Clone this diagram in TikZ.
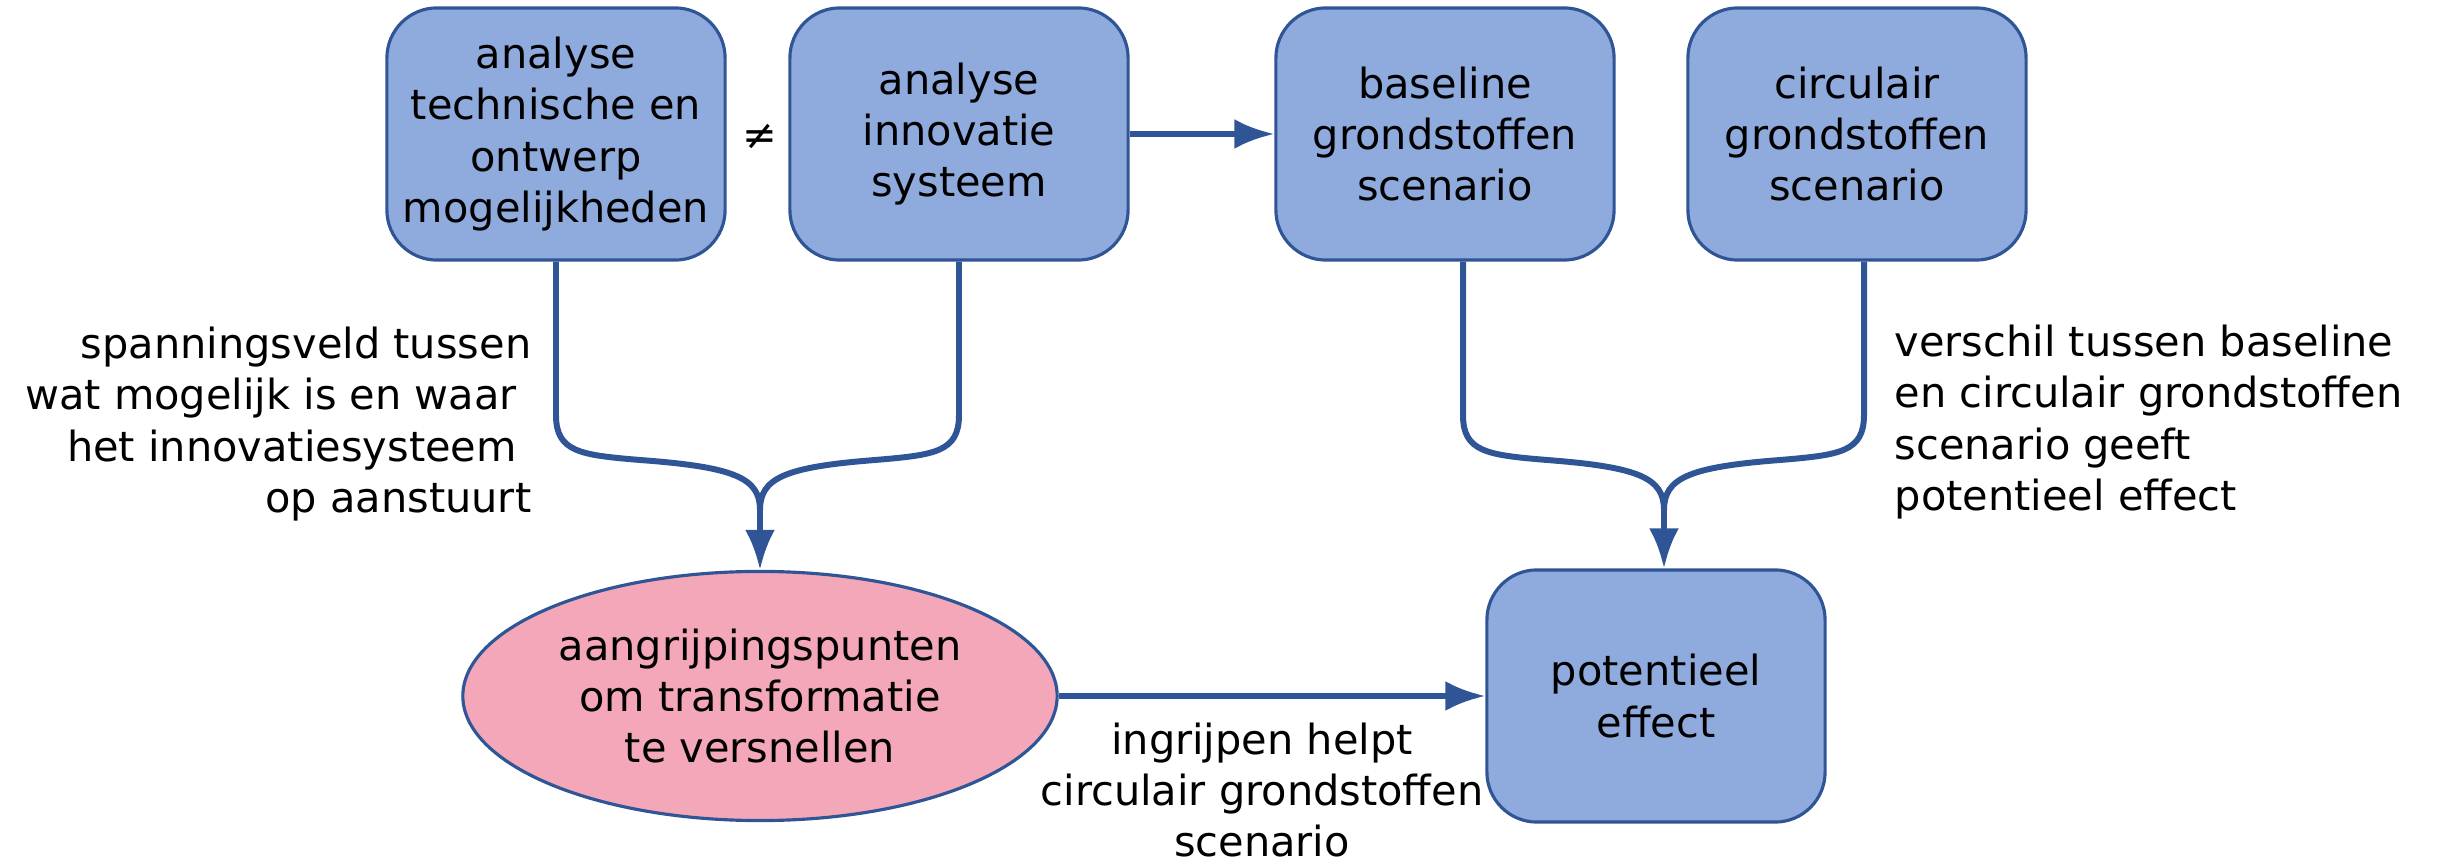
\documentclass[tikz,border=0pt]{standalone}
\usepackage{fontspec}
\setmainfont{DejaVu Sans}
\usetikzlibrary{arrows.meta,shapes,positioning}
\definecolor{blokblauw}{HTML}{8FAADC}
\definecolor{randblauw}{HTML}{2F5597}
\definecolor{roze}{HTML}{F4A7B9}

\begin{document}
\begin{tikzpicture}[x=0.01cm,y=-0.01cm,
		font=\fontsize{11.8}{14.6}\selectfont,
		blok/.style={draw=randblauw, line width=0.9pt, fill=blokblauw, rounded corners=0.5cm,
			minimum width=3.38cm, minimum height=2.52cm, align=center, inner sep=2pt},
		lijn/.style={draw=randblauw, line width=1.7pt},
		pijl/.style={lijn, -{Latex[length=4mm,width=3mm]}},
		uitleg/.style={inner sep=0pt}]
			\useasboundingbox (0,0) rectangle (2438,864);
			
			\node[blok] (A1) at (556,134) {analyse\\technische en\\ontwerp\\mogelijkheden} ;
			\node[blok] (A2) at (959,134) {analyse\\innovatie\\systeem} ;
			\node[blok] (B) at (1445,134) {baseline\\grondstoffen\\scenario} ;
			\node[blok] (C) at (1857,134) {circulair\\grondstoffen\\scenario} ;
			\node (neq) at (760,137) {≠} ;
			
			\node[draw=randblauw, line width=0.9pt, fill=roze, ellipse, minimum width=5.94cm, minimum height=2.49cm,
				align=center, inner sep=0pt] (E) at (760,696) {aangrijpingspunten\\om transformatie\\te versnellen} ;
			\node[blok] (P) at (1656,696) {potentieel\\effect} ;
			
			\coordinate (J1) at (760,510) ;
			\coordinate (J2) at (1664,510) ;
			
			\draw[pijl] (A2.east) -- (B.west) ;
			
			\draw[lijn] (A1.south) -- (556,415) .. controls (556,452) and (580,455) .. (640,460)
				.. controls (735,467) and (760,478) .. (J1) ;
			\draw[lijn] (A2.south) -- (959,415) .. controls (959,452) and (935,455) .. (875,460)
				.. controls (785,467) and (760,478) .. (J1) ;
			\draw[pijl] (J1) -- (E.north) ;
			
			\draw[lijn] ([xshift=0.18cm]B.south) -- (1463,415) .. controls (1463,452) and (1487,455) .. (1547,460)
				.. controls (1639,467) and (1664,478) .. (J2) ;
			\draw[lijn] ([xshift=0.07cm]C.south) -- (1864,415) .. controls (1864,452) and (1840,455) .. (1780,460)
				.. controls (1689,467) and (1664,478) .. (J2) ;
			\draw[pijl] (J2) -- (J2 |- P.north) ;
			
			\draw[pijl] (E.east) -- (P.west) ;
			
			\node[uitleg, anchor=east, align=right] (L1) at (532,424) {spanningsveld tussen\\wat mogelijk is en waar\kern.35em\\het innovatiesysteem\kern.35em\\op aanstuurt} ;
			\node[uitleg, anchor=west, align=left] (L2) at (1894,422) {verschil tussen baseline\\en circulair grondstoffen\\scenario geeft\\potentieel effect} ;
			\node[uitleg, align=center] (L3) at (1262,790) {ingrijpen helpt\\circulair grondstoffen\\scenario} ;
		\end{tikzpicture}
\end{document}
